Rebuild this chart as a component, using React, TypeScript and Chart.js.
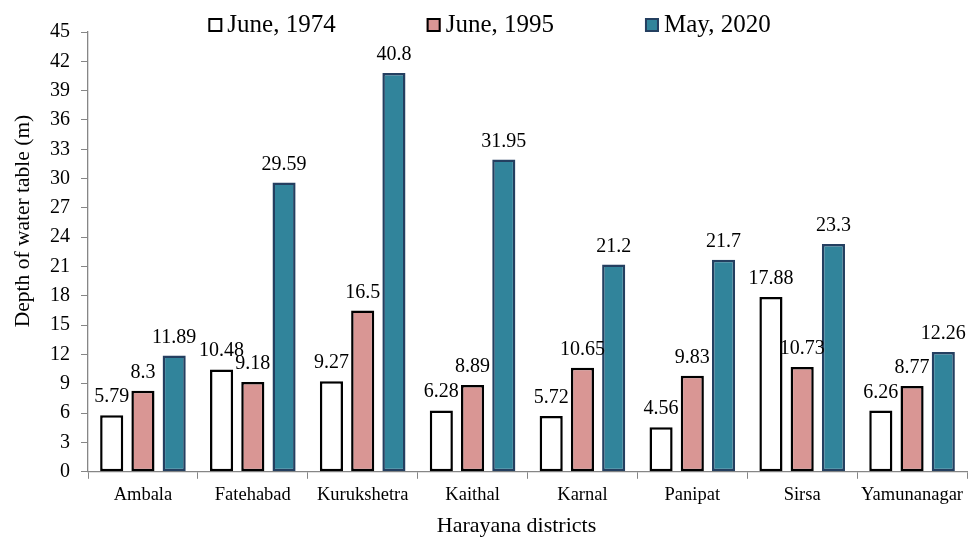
import React, { useEffect, useRef } from "react";
import { Chart, registerables } from "chart.js";

Chart.register(...registerables);

const districts = ["Ambala", "Fatehabad", "Kurukshetra", "Kaithal", "Karnal", "Panipat", "Sirsa", "Yamunanagar"];
const june1974 = [5.79, 10.48, 9.27, 6.28, 5.72, 4.56, 17.88, 6.26];
const june1995 = [8.3, 9.18, 16.5, 8.89, 10.65, 9.83, 10.73, 8.77];
const may2020 = [11.89, 29.59, 40.8, 31.95, 21.2, 21.7, 23.3, 12.26];
const seriesLabels = ["June, 1974", "June, 1995", "May, 2020"];
const yTitle = "Depth of water table (m)";
const xTitle = "Harayana districts";

const FONT = '"Liberation Serif", serif';

const overlayPlugin = {
  id: "overlay",
  afterDatasetsDraw(chart: any) {
    const ctx = chart.ctx;
    ctx.save();
    ctx.font = `20px ${FONT}`;
    ctx.fillStyle = "#000";
    ctx.textAlign = "center";
    ctx.textBaseline = "alphabetic";
    chart.data.datasets.forEach((ds: any, i: number) => {
      const meta = chart.getDatasetMeta(i);
      meta.data.forEach((bar: any, j: number) => {
        ctx.fillText(String(ds.data[j]), bar.x, bar.y - 13);
      });
    });
    ctx.restore();
  },
  afterDraw(chart: any) {
    const ctx = chart.ctx;
    const area = chart.chartArea;
    ctx.save();
    ctx.font = `25px ${FONT}`;
    const box = 14;
    const gap = 5;
    const pad = 91;
    const widths = chart.data.datasets.map((d: any) => box + gap + ctx.measureText(d.label).width);
    const total = widths.reduce((a: number, b: number) => a + b, 0) + pad * (widths.length - 1);
    let x = (chart.width - total) / 2;
    const baseY = 32;
    chart.data.datasets.forEach((d: any, i: number) => {
      ctx.fillStyle = d.backgroundColor;
      ctx.fillRect(x, baseY - box, box, box);
      ctx.lineWidth = 2;
      ctx.strokeStyle = d.borderColor;
      ctx.strokeRect(x + 1, baseY - box + 1, box - 2, box - 2);
      ctx.fillStyle = "#000";
      ctx.textAlign = "left";
      ctx.textBaseline = "alphabetic";
      ctx.fillText(d.label, x + box + gap, baseY);
      x += widths[i] + pad;
    });
    ctx.font = `22px ${FONT}`;
    ctx.textAlign = "center";
    ctx.fillText(xTitle, (area.left + area.right) / 2 - 11, 532);
    ctx.translate(23, 221);
    ctx.rotate(-Math.PI / 2);
    ctx.textBaseline = "middle";
    ctx.font = `21.5px ${FONT}`;
    ctx.fillText(yTitle, 0, 0);
    ctx.restore();
  },
};

export default function App() {
  const ref = useRef<HTMLCanvasElement | null>(null);
  useEffect(() => {
    if (!ref.current) return;
    const chart = new Chart(ref.current, {
      type: "bar",
      data: {
        labels: districts,
        datasets: [
          { label: seriesLabels[0], data: june1974, backgroundColor: "#FFFFFF", borderColor: "#000000" },
          { label: seriesLabels[1], data: june1995, backgroundColor: "#D99694", borderColor: "#000000" },
          { label: seriesLabels[2], data: may2020, backgroundColor: "#31849B", borderColor: "#243F60" },
        ].map((d) => ({ ...d, borderWidth: 2.5, borderSkipped: false as any, categoryPercentage: 0.853, barPercentage: 0.74 })),
      },
      options: {
        animation: false,
        responsive: true,
        maintainAspectRatio: false,
        layout: { padding: { top: 32, left: 39, right: 12, bottom: 28 } },
        plugins: { legend: { display: false }, tooltip: { enabled: false } },
        scales: {
          x: {
            grid: { display: true, drawOnChartArea: false, drawTicks: true, tickLength: 7, color: "#868686", offset: true },
            border: { display: true, color: "#868686", width: 1.3 },
            ticks: { color: "#000", font: { family: FONT, size: 18.5 }, padding: 5, maxRotation: 0, autoSkip: false },
          },
          y: {
            min: 0,
            max: 45,
            grid: { display: true, drawOnChartArea: false, drawTicks: true, tickLength: 7, color: "#868686" },
            border: { display: true, color: "#868686", width: 1.3 },
            ticks: { stepSize: 3, color: "#000", font: { family: FONT, size: 20 }, padding: 11 },
          },
        },
      },
      plugins: [overlayPlugin],
    });
    return () => chart.destroy();
  }, []);
  return (
    <div style={{ position: "fixed", left: 0, top: 0, width: 979, height: 539, background: "#fff" }}>
      <canvas ref={ref} />
    </div>
  );
}
